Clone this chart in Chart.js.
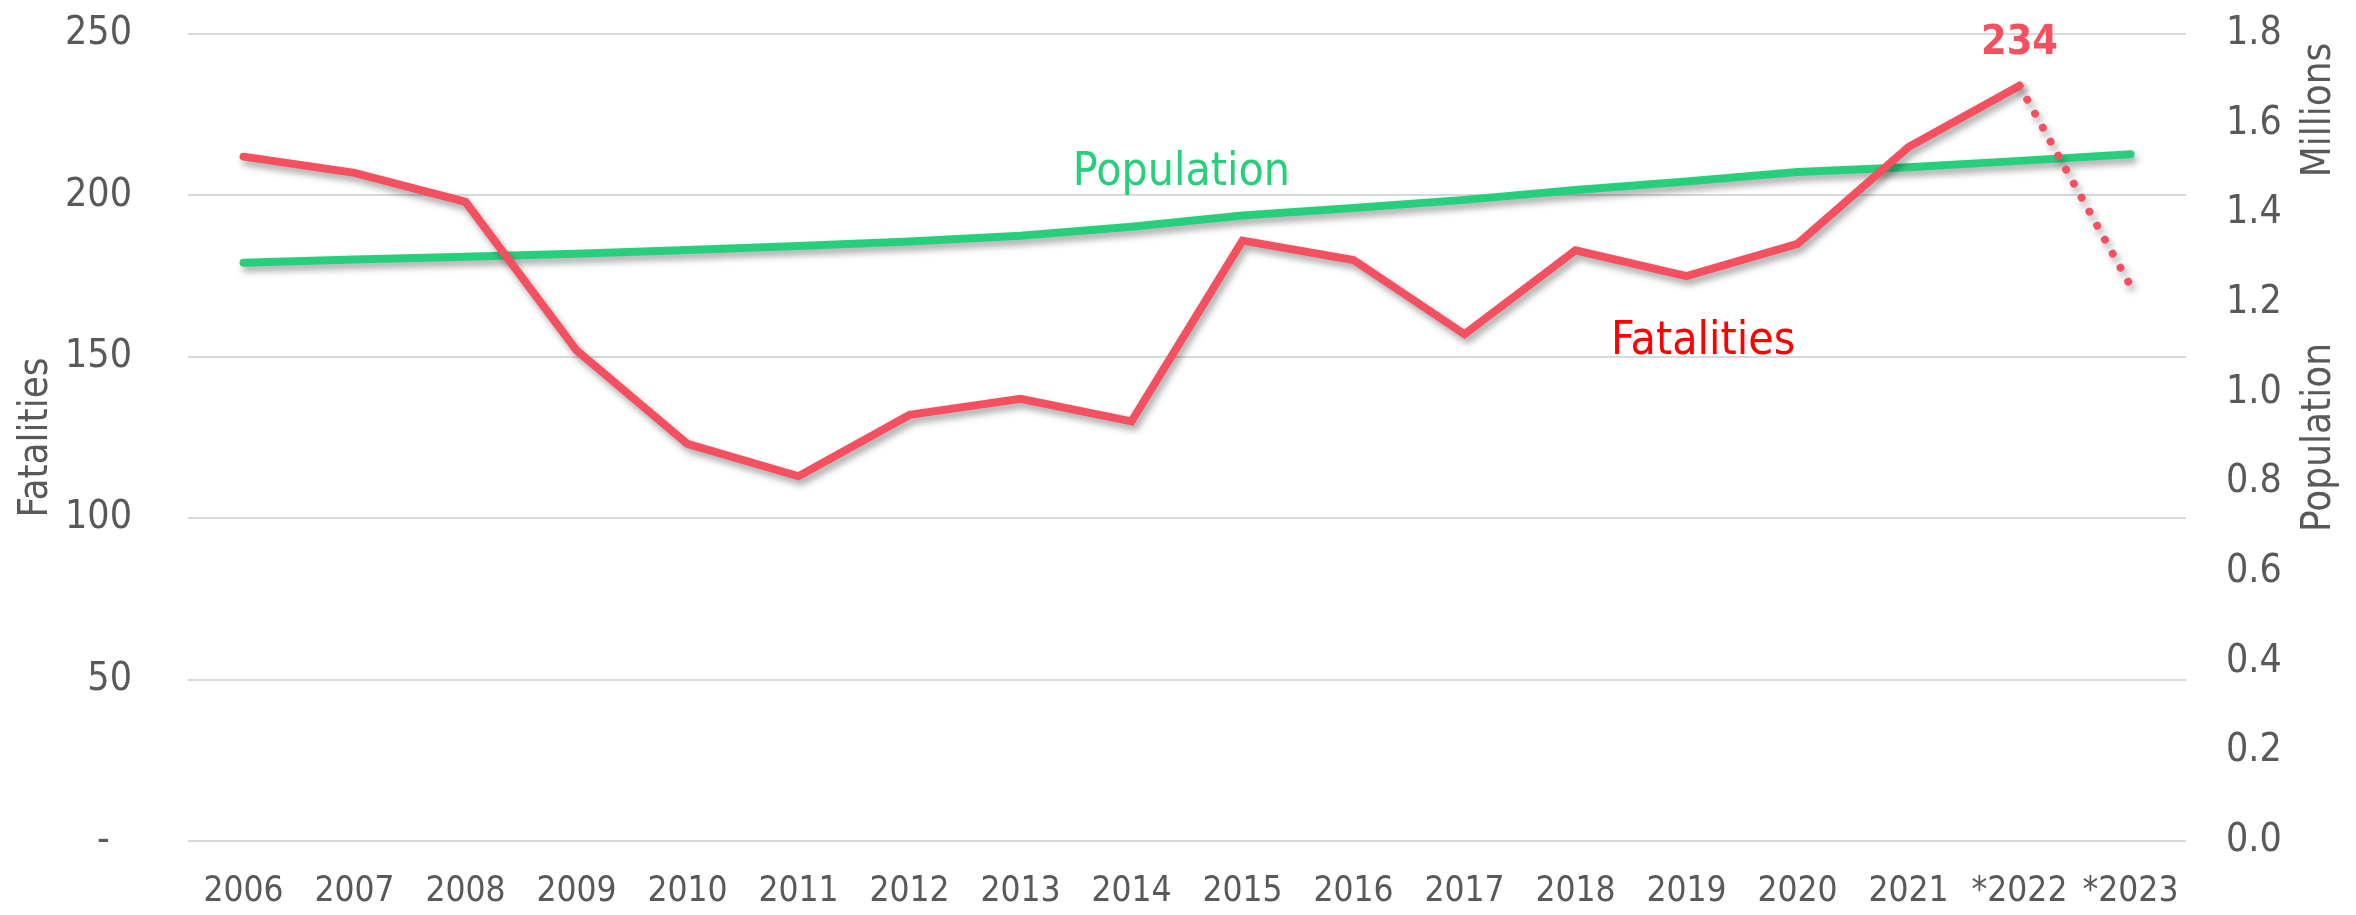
<!DOCTYPE html>
<html>
<head>
<meta charset="utf-8">
<script src="https://cdn.jsdelivr.net/npm/chart.js@4.4.1/dist/chart.umd.min.js"></script>
<style>
    html, body { margin: 0; padding: 0; background: #fff; }
    #wrap { width: 2356px; height: 915px; }
</style>
</head>
<body>
<div id="wrap"><canvas id="chart" width="2356" height="915"></canvas></div>
<script>
// Data
const years = ['2006', '2007', '2008', '2009', '2010', '2011', '2012', '2013', '2014',
    '2015', '2016', '2017', '2018', '2019', '2020', '2021', '*2022', '*2023'];
const fatalities = [212, 207, 198, 152, 123, 113, 132, 137, 130, 186, 180, 157, 183, 175, 185, 215, 234, 172];
// population in millions
const population = [1.290, 1.297, 1.303, 1.310, 1.318, 1.327, 1.337, 1.350, 1.370,
    1.395, 1.412, 1.430, 1.452, 1.471, 1.492, 1.503, 1.517, 1.532];
const fatalityTicks = [0, 50, 100, 150, 200, 250];
const populationTicks = [0, 0.2, 0.4, 0.6, 0.8, 1.0, 1.2, 1.4, 1.6, 1.8];
const peakIndex = 16;   // *2022, labelled value
const estimateFrom = 16; // segment from *2022 to *2023 is dotted

const RED = '#f4505f';
const GREEN = '#27cf7d';
const GREY = '#595959';
const FONT = '"DejaVu Sans Condensed", "DejaVu Sans", sans-serif';

// Тень под линиями
const shadowPlugin = {
    id: 'lineShadow',
    beforeDatasetDraw(chart) {
        const ctx = chart.ctx;
        ctx.save();
        ctx.shadowColor = 'rgba(0,0,0,0.35)';
        ctx.shadowBlur = 7;
        ctx.shadowOffsetX = 3;
        ctx.shadowOffsetY = 5;
    },
    afterDatasetDraw(chart) {
        chart.ctx.restore();
    }
};

// Подписи внутри графика и заголовки правой оси
const labelsPlugin = {
    id: 'extraLabels',
    afterDraw(chart) {
        const ctx = chart.ctx;
        const x = chart.scales.x;
        const y = chart.scales.y;
        const area = chart.chartArea;
        ctx.save();
        ctx.textAlign = 'center';
        ctx.textBaseline = 'middle';

        ctx.font = '46px ' + FONT;
        ctx.fillStyle = GREEN;
        ctx.fillText('Population', x.getPixelForValue(8.45), y.getPixelForValue(207));
        ctx.fillStyle = '#ff0000';
        ctx.fillText('Fatalities', x.getPixelForValue(13.15), y.getPixelForValue(154.5));

        ctx.font = 'bold 41px ' + FONT;
        ctx.fillStyle = RED;
        ctx.fillText(String(fatalities[peakIndex]), x.getPixelForValue(peakIndex),
            y.getPixelForValue(fatalities[peakIndex]) - 42);

        ctx.font = '40px ' + FONT;
        ctx.fillStyle = GREY;
        const tx = 2320;
        ctx.translate(tx, (area.top + area.bottom) / 2);
        ctx.rotate(-Math.PI / 2);
        ctx.fillText('Population', 0, 0);
        ctx.restore();

        ctx.save();
        ctx.font = '40px ' + FONT;
        ctx.fillStyle = GREY;
        ctx.textAlign = 'center';
        ctx.textBaseline = 'middle';
        ctx.translate(tx, 110);
        ctx.rotate(-Math.PI / 2);
        ctx.fillText('Millions', 0, 0);
        ctx.restore();
    }
};

// без автоматических отступов под подписи
function fixVertical(width) {
    return scale => {
        scale.width = width;
        scale.paddingTop = 0;
        scale.paddingBottom = 0;
    };
}

const ctx = document.getElementById('chart').getContext('2d');
new Chart(ctx, {
    type: 'line',
    data: {
        labels: years,
        datasets: [
            {
                label: 'Fatalities',
                data: fatalities,
                yAxisID: 'y',
                borderColor: RED,
                borderWidth: 8,
                borderCapStyle: 'round',
                pointRadius: 0,
                tension: 0,
                segment: {
                    borderDash: c => c.p0DataIndex >= estimateFrom ? [0.01, 16] : undefined
                }
            },
            {
                label: 'Population',
                data: population,
                yAxisID: 'y1',
                borderColor: GREEN,
                borderWidth: 8,
                borderCapStyle: 'round',
                pointRadius: 0,
                tension: 0
            }
        ]
    },
    options: {
        responsive: false,
        animation: false,
        layout: { padding: { top: 34, right: 0, bottom: 0, left: 0 } },
        plugins: {
            legend: { display: false },
            tooltip: { enabled: false }
        },
        scales: {
            x: {
                offset: true,
                grid: { display: false, drawTicks: false },
                border: { display: false },
                ticks: {
                    color: GREY,
                    font: { family: FONT, size: 35 },
                    padding: 30,
                    autoSkip: false,
                    maxRotation: 0
                },
                afterFit(scale) {
                    scale.height = 74;
                    scale.paddingLeft = 0;
                    scale.paddingRight = 0;
                }
            },
            y: {
                position: 'left',
                min: fatalityTicks[0],
                max: fatalityTicks[fatalityTicks.length - 1],
                afterBuildTicks(scale) { scale.ticks = fatalityTicks.map(v => ({ value: v })); },
                grid: { color: '#d9d9d9', lineWidth: 2, drawTicks: false },
                border: { display: false },
                ticks: {
                    color: GREY,
                    font: { family: FONT, size: 39 },
                    padding: 56,
                    callback: v => v === 0 ? '-  ' : String(v)
                },
                title: {
                    display: true,
                    text: 'Fatalities',
                    color: GREY,
                    font: { family: FONT, size: 40 },
                    padding: 13
                },
                afterFit: fixVertical(188)
            },
            y1: {
                position: 'right',
                min: populationTicks[0],
                max: populationTicks[populationTicks.length - 1],
                afterBuildTicks(scale) { scale.ticks = populationTicks.map(v => ({ value: v })); },
                grid: { drawOnChartArea: false, drawTicks: false },
                border: { display: false },
                ticks: {
                    color: GREY,
                    font: { family: FONT, size: 39 },
                    padding: 40,
                    callback: v => Number(v).toFixed(1)
                },
                afterFit: fixVertical(170)
            }
        }
    },
    plugins: [shadowPlugin, labelsPlugin]
});
</script>
</body>
</html>
